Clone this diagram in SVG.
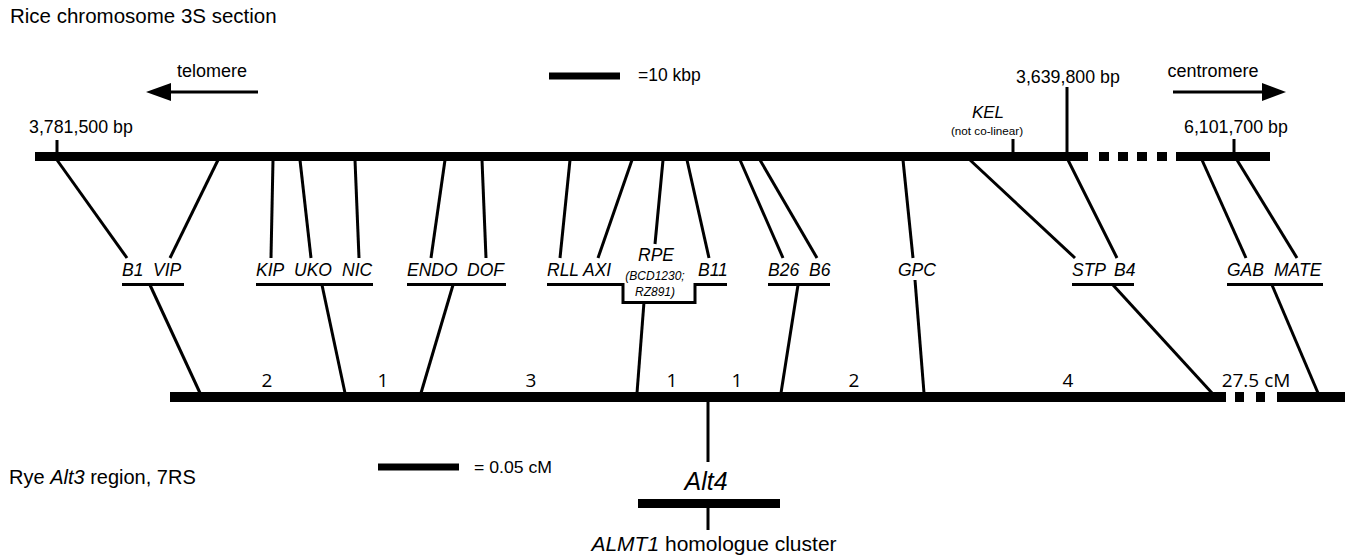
<svg xmlns="http://www.w3.org/2000/svg" width="1348" height="555" viewBox="0 0 1348 555">
<defs>
<style>
.t{font-family:"Liberation Sans",Arial,sans-serif;fill:#000}
.lab{font-family:"Liberation Sans",Arial,sans-serif;font-style:italic;font-size:17.5px;fill:#000}
.sm{font-family:"Liberation Sans",Arial,sans-serif;font-style:italic;font-size:12px;fill:#000;text-anchor:middle}
.num{font-family:"Open Sans","Liberation Sans",sans-serif;font-size:19px;fill:#000;text-anchor:middle}
.ln{stroke:#000;stroke-width:3;fill:none}
.bar{fill:#000}
</style>
</defs>
<rect width="1348" height="555" fill="#fff"/>

<g id="titles">
<text class="t" x="10" y="23" font-size="20.5">Rice chromosome 3S section</text>
<text class="t" x="9" y="484" font-size="20">Rye <tspan font-style="italic">Alt3</tspan> region, 7RS</text>
</g>

<g id="telomere-arrow">
<text class="t" x="212" y="77" font-size="18" text-anchor="middle">telomere</text>
<line class="ln" x1="168" y1="92" x2="258" y2="92" stroke-width="3.5"/>
<polygon class="bar" points="146,92 171,83 171,101"/>
</g>

<g id="centromere-arrow">
<text class="t" x="1213" y="77" font-size="18" text-anchor="middle">centromere</text>
<line class="ln" x1="1173" y1="92" x2="1264" y2="92" stroke-width="3.5"/>
<polygon class="bar" points="1286,92 1262,83 1262,101"/>
</g>

<g id="scale-kbp">
<rect class="bar" x="549" y="72.5" width="71" height="7"/>
<text class="t" x="638" y="81" font-size="17.5">=10 kbp</text>
</g>

<g id="rice-chromosome">
<rect class="bar" x="35" y="152" width="1053" height="9"/>
<rect class="bar" x="1099" y="152" width="10" height="9"/>
<rect class="bar" x="1118" y="152" width="10" height="9"/>
<rect class="bar" x="1137" y="152" width="10" height="9"/>
<rect class="bar" x="1157" y="152" width="10" height="9"/>
<rect class="bar" x="1176" y="152" width="94" height="9"/>
<line class="ln" x1="57" y1="140" x2="57" y2="153"/>
<line class="ln" x1="1067" y1="87" x2="1067" y2="153"/>
<line class="ln" x1="1013" y1="139" x2="1013" y2="153"/>
<line class="ln" x1="1234" y1="139" x2="1234" y2="153"/>
<text class="t" x="29" y="133" font-size="17.8">3,781,500 bp</text>
<text class="t" x="1016" y="83" font-size="17.8">3,639,800 bp</text>
<text class="t" x="1184" y="133" font-size="17.8">6,101,700 bp</text>
<text class="t" x="988" y="118" font-size="17" font-style="italic" text-anchor="middle">KEL</text>
<text class="t" x="987" y="135" font-size="11.7" text-anchor="middle">(not co-linear)</text>
</g>

<g id="connectors">
<line class="ln" x1="57" y1="160" x2="127" y2="258"/>
<line class="ln" x1="218" y1="160" x2="170" y2="258"/>
<line class="ln" x1="273" y1="160" x2="271" y2="258"/>
<line class="ln" x1="300" y1="160" x2="311" y2="258"/>
<line class="ln" x1="355" y1="160" x2="359" y2="258"/>
<line class="ln" x1="445" y1="160" x2="431" y2="258"/>
<line class="ln" x1="482" y1="160" x2="486" y2="258"/>
<line class="ln" x1="570" y1="160" x2="560" y2="258"/>
<line class="ln" x1="632" y1="160" x2="598" y2="258"/>
<line class="ln" x1="663" y1="160" x2="655" y2="244"/>
<line class="ln" x1="687" y1="160" x2="709" y2="258"/>
<line class="ln" x1="740" y1="160" x2="783" y2="258"/>
<line class="ln" x1="760" y1="160" x2="817" y2="258"/>
<line class="ln" x1="903" y1="160" x2="913" y2="258"/>
<line class="ln" x1="970" y1="160" x2="1075" y2="258"/>
<line class="ln" x1="1068" y1="160" x2="1117" y2="258"/>
<line class="ln" x1="1202" y1="160" x2="1246" y2="258"/>
<line class="ln" x1="1237" y1="160" x2="1297" y2="258"/>

<line class="ln" x1="150" y1="285" x2="200" y2="393"/>
<line class="ln" x1="322" y1="285" x2="345" y2="393"/>
<line class="ln" x1="453" y1="285" x2="421" y2="393"/>
<line class="ln" x1="644" y1="302" x2="637" y2="393"/>
<line class="ln" x1="798" y1="285" x2="781" y2="393"/>
<line class="ln" x1="915" y1="280" x2="924" y2="393"/>
<line class="ln" x1="1113" y1="285" x2="1212" y2="393"/>
<line class="ln" x1="1272" y1="285" x2="1318" y2="393"/>
</g>

<g id="group-B1-VIP">
<text class="lab" x="122" y="275.5">B1</text>
<text class="lab" x="153" y="275.5">VIP</text>
<line class="ln" x1="122" y1="284.5" x2="184" y2="284.5"/>
</g>
<g id="group-KIP-UKO-NIC">
<text class="lab" x="256" y="275.5">KIP</text>
<text class="lab" x="294" y="275.5">UKO</text>
<text class="lab" x="342" y="275.5">NIC</text>
<line class="ln" x1="256" y1="284.5" x2="373" y2="284.5"/>
</g>
<g id="group-ENDO-DOF">
<text class="lab" x="407" y="275.5">ENDO</text>
<text class="lab" x="467" y="275.5">DOF</text>
<line class="ln" x1="407" y1="284.5" x2="506" y2="284.5"/>
</g>
<g id="group-RLL-AXI-RPE-B11">
<text class="lab" x="547" y="275.5">RLL</text>
<text class="lab" x="583" y="275.5">AXI</text>
<text class="lab" x="656" y="261" text-anchor="middle">RPE</text>
<text class="sm" x="655" y="280">(BCD1230;</text>
<text class="sm" x="655" y="296">RZ891)</text>
<text class="lab" x="698" y="275.5">B11</text>
<polyline class="ln" points="547,284.5 623,284.5 623,302.5 695,302.5 695,284.5 727,284.5"/>
</g>
<g id="group-B26-B6">
<text class="lab" x="768" y="275.5">B26</text>
<text class="lab" x="809" y="275.5">B6</text>
<line class="ln" x1="768" y1="284.5" x2="830" y2="284.5"/>
</g>
<g id="group-GPC">
<text class="lab" x="898" y="275.5">GPC</text>
</g>
<g id="group-STP-B4">
<text class="lab" x="1072" y="275.5">STP</text>
<text class="lab" x="1114" y="275.5">B4</text>
<line class="ln" x1="1072" y1="284.5" x2="1134" y2="284.5"/>
</g>
<g id="group-GAB-MATE">
<text class="lab" x="1227" y="275.5">GAB</text>
<text class="lab" x="1274" y="275.5">MATE</text>
<line class="ln" x1="1227" y1="284.5" x2="1323" y2="284.5"/>
</g>

<g id="rye-chromosome">
<rect class="bar" x="170" y="392" width="1056" height="10"/>
<rect class="bar" x="1235" y="392" width="9" height="10"/>
<rect class="bar" x="1256" y="392" width="9" height="10"/>
<rect class="bar" x="1277" y="392" width="68" height="10"/>
<text class="num" x="267" y="387">2</text>
<text class="num" x="383" y="387">1</text>
<text class="num" x="531" y="387">3</text>
<text class="num" x="672" y="387">1</text>
<text class="num" x="737" y="387">1</text>
<text class="num" x="854" y="387">2</text>
<text class="num" x="1068" y="387">4</text>
<text class="num" x="1256" y="387">27.5 cM</text>
</g>

<g id="scale-cM">
<rect class="bar" x="378" y="463.5" width="81" height="7"/>
<text class="t" x="474" y="473" font-size="17" textLength="78" lengthAdjust="spacingAndGlyphs">= 0.05 cM</text>
</g>

<g id="alt4">
<line class="ln" x1="708" y1="401" x2="708" y2="462"/>
<text class="t" x="706" y="490" font-size="25" font-style="italic" text-anchor="middle">Alt4</text>
<rect class="bar" x="638" y="499" width="142" height="9"/>
<line class="ln" x1="708" y1="508" x2="708" y2="530"/>
<text class="t" x="714" y="551" font-size="21" text-anchor="middle"><tspan font-style="italic">ALMT1</tspan> homologue cluster</text>
</g>
</svg>
